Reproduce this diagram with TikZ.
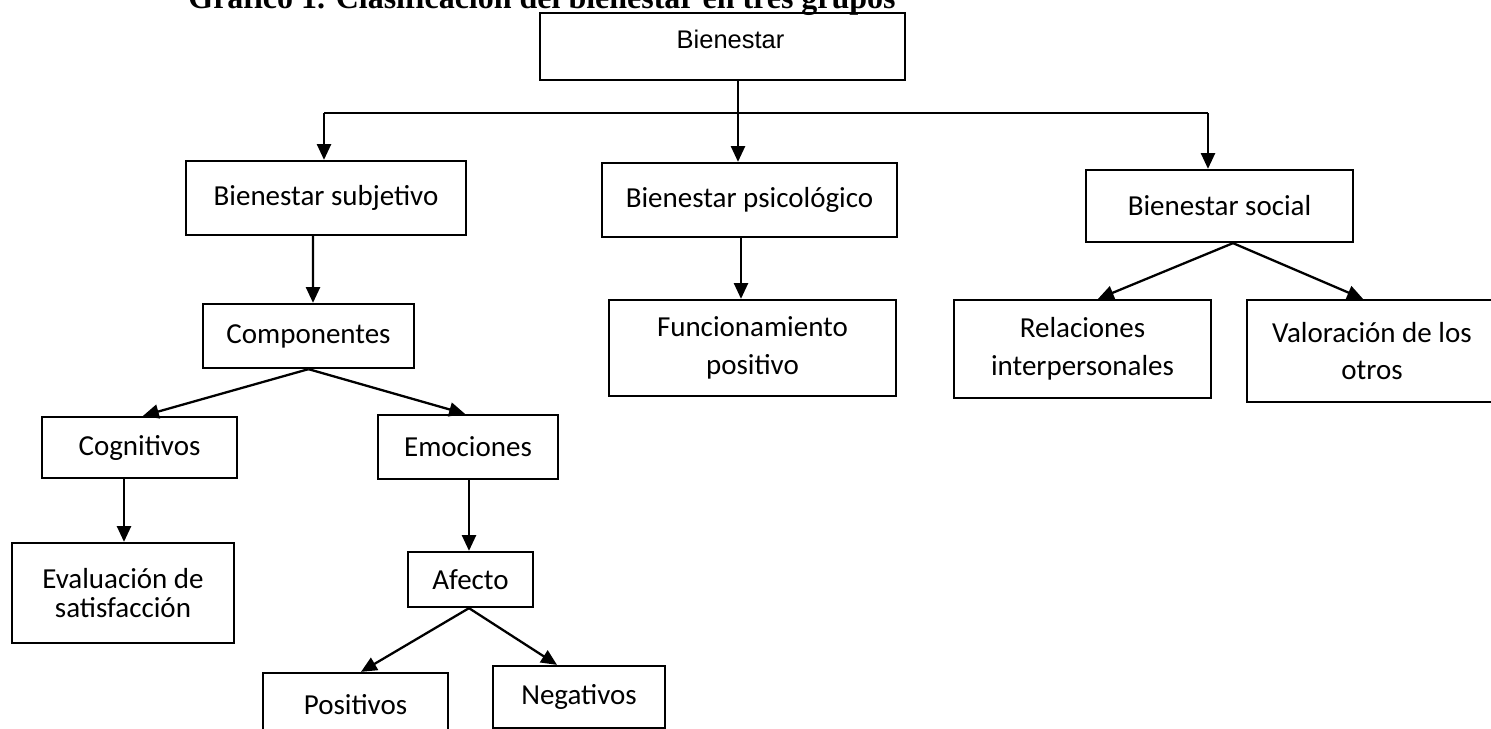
\documentclass[tikz,border=0pt]{standalone}
\usepackage{fontspec}
\setmainfont{Carlito}
\newfontfamily\arialfont{Liberation Sans}
\newfontfamily\timesfont{Liberation Serif}
\usetikzlibrary{arrows.meta, calc}
\tikzset{
    caja/.style 2 args={draw, line width=1.3pt, inner sep=0pt, align=center,
        minimum width=#1*0.02cm, minimum height=#2*0.02cm,
        font=\fontsize{16.5}{21.5}\selectfont},
    flecha/.style={-{Triangle[length=9pt,width=8pt]}, line width=1.3pt},
    linea/.style={line width=1.3pt}
}
\begin{document}
\begin{tikzpicture}[x=0.02cm, y=-0.02cm]
    \useasboundingbox (0,0) rectangle (1491,729);

    % titulo (cortado arriba)
    \node[anchor=base, font=\timesfont\bfseries\fontsize{18.2}{20}\selectfont] (titulo) at (542,9) {Gráfico 1. Clasificación del bienestar en tres grupos};

    % cajas
    \node[caja={365}{67}, font=\arialfont\fontsize{14.5}{17}\selectfont,
          text height=0.73em, text depth=0.53em] (bien) at (722.5,46.5) {\hspace{0.32cm}Bienestar};
    \node[caja={280}{74}] (sub) at (326,198) {Bienestar subjetivo};
    \node[caja={295}{74}] (psi) at (749.5,200) {Bienestar psicológico};
    \node[caja={267}{72}] (soc) at (1219.5,206) {Bienestar social};
    \node[caja={211}{64}] (comp) at (308.5,336) {Componentes};
    \node[caja={287}{96}] (func) at (752.5,348) {Funcionamiento\\positivo};
    \node[caja={257}{98}] (rel) at (1082.5,349) {Relaciones\\interpersonales};
    \node[caja={250}{102}] (val) at (1372,351) {Valoración de los\\otros};
    \node[caja={195}{61}] (cog) at (139.5,447.5) {Cognitivos};
    \node[caja={180}{64}] (emo) at (468,447) {Emociones};
    \node[caja={222}{100}] (eva) at (123,593) {Evaluación de\\[-4.5pt]satisfacción};
    \node[caja={125}{55}] (afe) at (470.5,579.5) {Afecto};
    \node[caja={185}{64}] (pos) at (355.5,705) {Positivos};
    \node[caja={172}{62}] (neg) at (579,697) {Negativos};

    % primer nivel
    \coordinate (hub) at (738,113);
    \coordinate (izq) at (324,113);
    \coordinate (der) at (1208,113);
    \draw[linea] (hub |- bien.south) -- (hub);
    \draw[linea] (izq) -- (der);
    \draw[flecha] (izq) -- (izq |- sub.north);
    \draw[flecha] (hub) -- (hub |- psi.north);
    \draw[flecha] (der) -- (der |- soc.north);

    % flechas
    \draw[flecha] ($(sub.south)+(-13,0)$) -- ($(comp.north)+(4.5,0)$);
    \draw[flecha] ($(psi.south)+(-8.5,0)$) -- ($(func.north)+(-11.5,0)$);
    \draw[flecha] ($(soc.south)+(13.5,0)$) -- ($(rel.north)+(15.5,0)$);
    \draw[flecha] ($(soc.south)+(13.5,0)$) -- ($(val.north)+(-9,0)$);
    \draw[flecha] (comp.south) -- ($(cog.north)+(3.5,0)$);
    \draw[flecha] (comp.south) -- ($(emo.north)+(-3,0)$);
    \draw[flecha] ($(cog.south)+(-15.5,0)$) -- ($(eva.north)+(1,0)$);
    \draw[flecha] ($(emo.south)+(1,0)$) -- ($(afe.north)+(-1.5,0)$);
    \draw[flecha] ($(afe.south)+(-1.5,0)$) -- ($(pos.north)+(5.5,0)$);
    \draw[flecha] ($(afe.south)+(-1.5,0)$) -- ($(neg.north)+(-22,0)$);
\end{tikzpicture}
\end{document}
